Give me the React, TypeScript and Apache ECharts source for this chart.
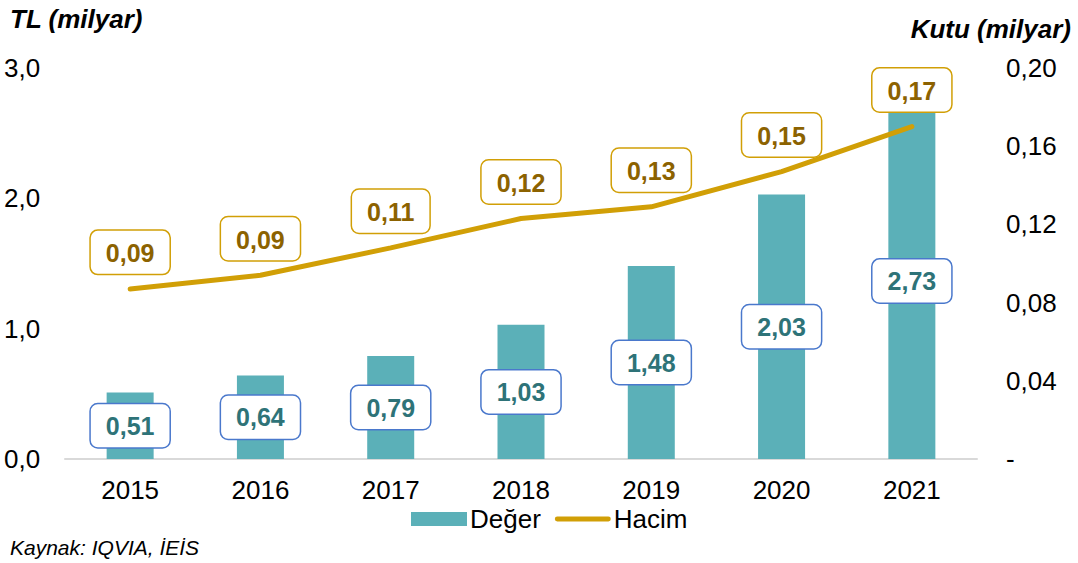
import React, { useEffect, useRef } from "react";
import * as echarts from "echarts";

const years = ["2015", "2016", "2017", "2018", "2019", "2020", "2021"];
const degerValues = [0.51, 0.64, 0.79, 1.03, 1.48, 2.03, 2.73];
const hacimValues = [0.087, 0.094, 0.108, 0.123, 0.129, 0.147, 0.17];
const leftTicks = ["0,0", "1,0", "2,0", "3,0"];
const rightTicks = ["-", "0,04", "0,08", "0,12", "0,16", "0,20"];

const FONT = "'Liberation Sans', Arial, sans-serif";
const BAR = "#5BB0B8";
const LINE = "#D19F06";

export default function App() {
  const ref = useRef<HTMLDivElement>(null);
  useEffect(() => {
    const chart = echarts.init(ref.current!, null, { renderer: "svg" });
    const fmt = (p: any) => Number(p.value).toFixed(2).replace(".", ",");
    chart.setOption({
      animation: false,
      textStyle: { fontFamily: FONT },
      grid: { left: 65, right: 101, top: 68, bottom: 104 },
      legend: {
        top: 501,
        left: 406,
        itemGap: 14,
        textStyle: { fontSize: 26, color: "#000", fontFamily: FONT, padding: [0, 0, 0, -2] },
        data: [
          { name: "Değer", icon: "rect", itemStyle: { color: BAR } },
          {
            name: "Hacim",
            icon: "path://M2.5,0 L54.5,0 A2.5,2.5 0 0 1 54.5,5 L2.5,5 A2.5,2.5 0 0 1 2.5,0 Z",
            itemStyle: { color: LINE },
          },
        ],
        itemWidth: 56,
        itemHeight: 14,
      },
      graphic: [
        {
          type: "text",
          left: 10,
          top: 6,
          style: { text: "TL (milyar)", font: `italic bold 26px ${FONT}`, fill: "#000" },
        },
        {
          type: "text",
          right: 7,
          top: 16,
          style: { text: "Kutu (milyar)", font: `italic bold 26px ${FONT}`, fill: "#000" },
        },
        {
          type: "text",
          left: 10,
          top: 537,
          style: { text: "Kaynak: IQVIA, İEİS", font: `italic 21px ${FONT}`, fill: "#000" },
        },
      ],
      xAxis: {
        type: "category",
        data: years,
        axisLine: { lineStyle: { color: "#D9D9D9", width: 2 } },
        axisTick: { show: false },
        axisLabel: { fontSize: 26, color: "#000", margin: 18, fontFamily: FONT },
      },
      yAxis: [
        {
          type: "value",
          min: 0,
          max: 3,
          interval: 1,
          splitLine: { show: false },
          axisLabel: {
            fontSize: 26,
            color: "#000",
            fontFamily: FONT,
            align: "left",
            margin: 61,
            formatter: (v: number) => leftTicks[Math.round(v)],
          },
        },
        {
          type: "value",
          min: 0,
          max: 0.2,
          interval: 0.04,
          splitLine: { show: false },
          axisLabel: {
            fontSize: 26,
            color: "#000",
            fontFamily: FONT,
            margin: 29,
            formatter: (v: number) => rightTicks[Math.round(v / 0.04)],
          },
        },
      ],
      series: [
        {
          name: "Değer",
          type: "bar",
          data: degerValues,
          barWidth: 47,
          itemStyle: { color: BAR },
          label: {
            show: true,
            position: "inside",
            formatter: fmt,
            fontSize: 25,
            fontWeight: "bold",
            fontFamily: FONT,
            color: "#2E7378",
            backgroundColor: "#fff",
            borderColor: "#4A78CC",
            borderWidth: 1.5,
            borderRadius: 7,
            padding: [10, 15, 8, 15],
          },
        },
        {
          name: "Hacim",
          type: "line",
          yAxisIndex: 1,
          data: hacimValues,
          symbol: "circle",
          symbolSize: 0.1,
          showSymbol: true,
          lineStyle: { color: LINE, width: 5, cap: "round" },
          itemStyle: { color: LINE },
          label: {
            show: true,
            position: "top",
            distance: 15,
            formatter: fmt,
            fontSize: 25,
            fontWeight: "bold",
            fontFamily: FONT,
            color: "#8C6200",
            backgroundColor: "#fff",
            borderColor: LINE,
            borderWidth: 1.5,
            borderRadius: 7,
            padding: [10, 15, 8, 15],
          },
        },
      ],
    });
    return () => chart.dispose();
  }, []);
  return <div ref={ref} style={{ width: 1078, height: 563, position: "absolute", left: 0, top: 0 }} />;
}
